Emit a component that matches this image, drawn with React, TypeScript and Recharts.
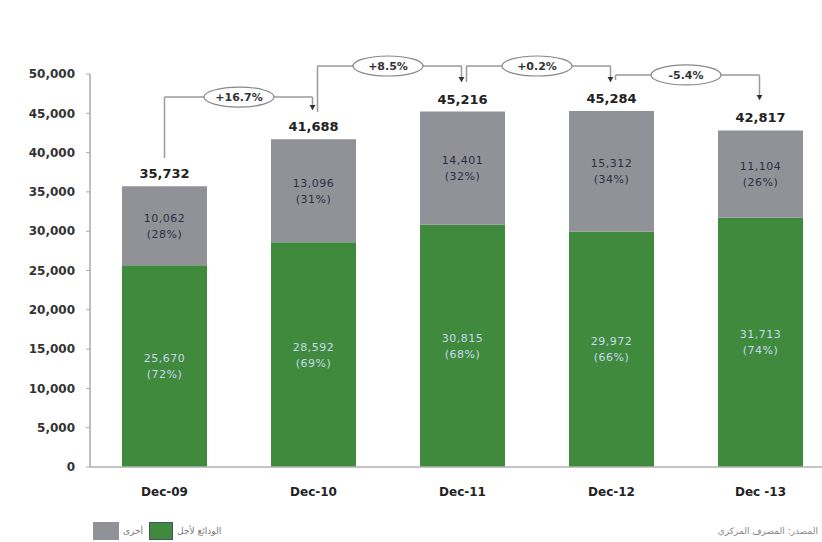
import React from 'react';
import {
  BarChart,
  Bar,
  XAxis,
  YAxis,
  LabelList,
  ReferenceLine,
} from 'recharts';

const categories = ['Dec-09', 'Dec-10', 'Dec-11', 'Dec-12', 'Dec -13'];
const deposits = [25670, 28592, 30815, 29972, 31713];
const others = [10062, 13096, 14401, 15312, 11104];
const totals = [35732, 41688, 45216, 45284, 42817];
const depositShare = ['72%', '69%', '68%', '66%', '74%'];
const otherShare = ['28%', '31%', '32%', '34%', '26%'];
const growth = ['+16.7%', '+8.5%', '+0.2%', '-5.4%'];
const yTicks = [0, 5000, 10000, 15000, 20000, 25000, 30000, 35000, 40000, 45000, 50000];

// connector levels (data units) for the growth arrows between bars
const arrowStart = [39300, 45170, 48980, 49240];
const arrowLevel = [47070, 51020, 51020, 49880];
const arrowEnd = [45420, 48980, 48980, 46690];

const data = categories.map((name, i) => ({
  name,
  deposits: deposits[i],
  others: others[i],
  total: totals[i],
  depositShare: depositShare[i],
  otherShare: otherShare[i],
}));

const FONT = '"DejaVu Sans", "Liberation Sans", sans-serif';
const GREEN = '#3f8a3c';
const GRAY = '#919297';
const LINE = '#9a9a9a';

const fmt = (v: number) => v.toLocaleString('en-US');

const segLabel = (shareKey: string, color: string) => (props: any) => {
  const { x, y, width, height, index } = props;
  const row = data[index];
  const cx = x + width / 2;
  const cy = y + height / 2;
  return (
    <g fontSize={11} fill={color} fontFamily={FONT} letterSpacing={0.5}>
      <text x={cx} y={cy - 4} textAnchor="middle">
        {fmt(props.value)}
      </text>
      <text x={cx} y={cy + 12} textAnchor="middle">
        ({(row as any)[shareKey]})
      </text>
    </g>
  );
};

const totalLabel = (props: any) => {
  const { x, y, width, value } = props;
  return (
    <text x={x + width / 2} y={y - 8} textAnchor="middle" fontSize={13} fontWeight="bold" fill="#222" fontFamily={FONT}>
      {fmt(value)}
    </text>
  );
};

const legShape = (dx: number, arrow: boolean) => (props: any) => {
  const { x1, y1, x2, y2 } = props;
  return (
    <g>
      <line x1={x1 + dx} y1={y1} x2={x2 + dx} y2={y2} stroke={LINE} strokeWidth={1.5} />
      {arrow && (
        <polygon
          points={`${x2 + dx - 3},${y2 - 5} ${x2 + dx + 3},${y2 - 5} ${x2 + dx},${y2}`}
          fill="#333"
        />
      )}
    </g>
  );
};

const spanShape = (label: string, dxStart: number, dxEnd: number) => (props: any) => {
  const { x1, y1, x2 } = props;
  const mx = (x1 + x2) / 2;
  return (
    <g>
      <line x1={x1 + dxStart} y1={y1} x2={x2 + dxEnd} y2={y1} stroke={LINE} strokeWidth={1.5} />
      <ellipse cx={mx} cy={y1} rx={35} ry={10} fill="#fff" stroke="#888" strokeWidth={1.2} />
      <text x={mx} y={y1 + 4} textAnchor="middle" fontSize={11} fontWeight="bold" fill="#333" fontFamily={FONT}>
        {label}
      </text>
    </g>
  );
};

export default function App() {
  return (
    <div style={{ position: 'absolute', left: 0, top: 0, width: 822, height: 542, overflow: 'hidden', background: '#fff', fontFamily: FONT }}>
      <BarChart
        width={840}
        height={542}
        data={data}
        margin={{ top: 74, right: 5, bottom: 35, left: 0 }}
        barSize={85}
      >
        <XAxis
          dataKey="name"
          axisLine={{ stroke: '#b0b0b0', strokeWidth: 1.5 }}
          tickLine={false}
          tickSize={0}
          tickMargin={20}
          height={40}
          tick={{ fontSize: 12, fontWeight: 'bold', fill: '#222', fontFamily: FONT }}
        />
        <YAxis
          width={90}
          domain={[0, 50000]}
          ticks={yTicks}
          interval={0}
          tickFormatter={fmt}
          axisLine={{ stroke: '#aaa', strokeWidth: 1.5 }}
          tickLine={{ stroke: '#aaa' }}
          tickSize={4}
          tickMargin={11}
          tick={{ fontSize: 12, fontWeight: 'bold', fill: '#333', fontFamily: FONT }}
        />
        <Bar dataKey="deposits" stackId="a" fill={GREEN} isAnimationActive={false}>
          <LabelList dataKey="deposits" content={segLabel('depositShare', '#c8d8ee')} />
        </Bar>
        <Bar dataKey="others" stackId="a" fill={GRAY} isAnimationActive={false}>
          <LabelList dataKey="others" content={segLabel('otherShare', '#2c2f44')} />
          <LabelList dataKey="total" content={totalLabel} />
        </Bar>
        {growth.map((g, i) => {
          const dxUp = i === 0 ? 0 : 4;
          return (
            <React.Fragment key={g}>
              <ReferenceLine
                ifOverflow="visible"
                segment={[
                  { x: categories[i], y: arrowStart[i] },
                  { x: categories[i], y: arrowLevel[i] },
                ]}
                shape={legShape(dxUp, false)}
              />
              <ReferenceLine
                ifOverflow="visible"
                segment={[
                  { x: categories[i], y: arrowLevel[i] },
                  { x: categories[i + 1], y: arrowLevel[i] },
                ]}
                shape={spanShape(g, dxUp, -1)}
              />
              <ReferenceLine
                ifOverflow="visible"
                segment={[
                  { x: categories[i + 1], y: arrowLevel[i] },
                  { x: categories[i + 1], y: arrowEnd[i] },
                ]}
                shape={legShape(-1, true)}
              />
            </React.Fragment>
          );
        })}
      </BarChart>
      <div style={{ position: 'absolute', left: 93, top: 522, display: 'flex', alignItems: 'center', fontSize: 9, color: '#777' }}>
        <span style={{ display: 'inline-block', width: 26, height: 18, background: GRAY }} />
        <span style={{ margin: '0 6px 0 4px' }}>أخرى</span>
        <span style={{ display: 'inline-block', width: 24, height: 18, background: GREEN, boxShadow: 'inset 0 0 0 1px #44556a' }} />
        <span style={{ marginLeft: 4 }}>الودائع لأجل</span>
      </div>
      <div style={{ position: 'absolute', right: 4, top: 526, fontSize: 9, color: '#888', direction: 'rtl' }}>
        المصدر: المصرف المركزي
      </div>
    </div>
  );
}
